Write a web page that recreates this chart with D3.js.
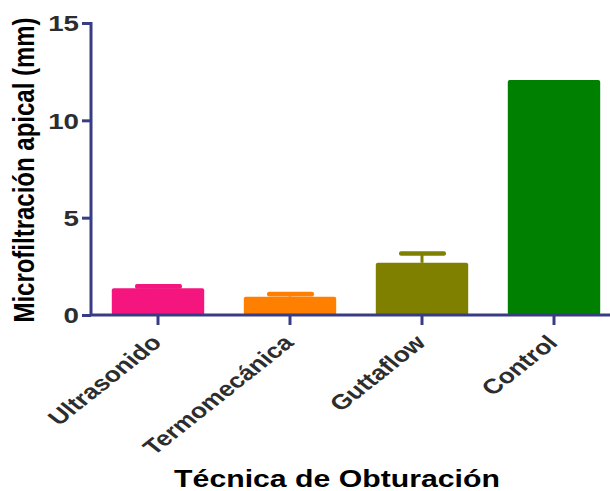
<!DOCTYPE html>
<html>
<head>
<meta charset="utf-8">
<script src="https://cdn.jsdelivr.net/npm/d3@7"></script>
<style>
  body { margin: 0; background: #fff; }
  text { font-family: "Liberation Sans", Arial, sans-serif; font-weight: bold; }
</style>
</head>
<body>
<svg id="chart"></svg>
<script>
// Data
const categories = ['Ultrasonido', 'Termomecánica', 'Guttaflow', 'Control'];
const means = [1.37, 0.94, 2.68, 12.07];
const errors = [0.1, 0.13, 0.48, 0];
const yTicks = [0, 5, 10, 15];
const barColors = ['#f5157f', '#ff8000', '#808000', '#008000'];

const W = 610, H = 491;
const axisColor = '#383c85';
const stretch = 1.26; // the figure's text is stretched sideways

const svg = d3.select('#chart')
    .attr('width', W)
    .attr('height', H);

const x = d3.scaleBand()
    .domain(categories)
    .range([92, 620])
    .paddingInner(0.3)
    .paddingOuter(0.15);

const y = d3.scaleLinear()
    .domain([0, 15])
    .range([315, 23]);

// Bars
svg.selectAll('.bar')
    .data(categories)
    .enter()
    .append('rect')
    .attr('class', 'bar')
    .attr('x', d => x(d))
    .attr('y', (d, i) => y(means[i]))
    .attr('width', x.bandwidth())
    .attr('height', (d, i) => y(0) - y(means[i]))
    .attr('rx', 2)
    .style('fill', (d, i) => barColors[i]);

// Error bars (upper only)
const errData = categories.map((c, i) => ({ c, m: means[i], e: errors[i], col: barColors[i] }))
    .filter(d => d.e > 0);

const err = svg.selectAll('.err')
    .data(errData)
    .enter()
    .append('g')
    .attr('class', 'err');

err.append('line')
    .attr('x1', d => x(d.c) + x.bandwidth() / 2)
    .attr('x2', d => x(d.c) + x.bandwidth() / 2)
    .attr('y1', d => y(d.m))
    .attr('y2', d => y(d.m + d.e))
    .style('stroke', d => d.col)
    .style('stroke-width', 3);

err.append('rect')
    .attr('x', d => x(d.c) + x.bandwidth() / 2 - 23)
    .attr('y', d => y(d.m + d.e) - 2.3)
    .attr('width', 47)
    .attr('height', 4.6)
    .attr('rx', 2)
    .style('fill', d => d.col);

// Y axis
const yAxis = svg.append('g')
    .attr('transform', 'translate(91,0)')
    .call(d3.axisLeft(y).tickValues(yTicks).tickSize(9));

yAxis.select('.domain')
    .attr('d', `M0,${y(15) - 1}V${y(0)}`)
    .style('stroke', axisColor)
    .style('stroke-width', 3);
yAxis.selectAll('.tick line')
    .style('stroke', axisColor)
    .style('stroke-width', 3);
yAxis.selectAll('.tick text')
    .attr('x', 0)
    .attr('dy', '0.36em')
    .attr('transform', `translate(-12,0) scale(${stretch},1)`)
    .style('font-size', '22px')
    .style('fill', '#2d2d2d');

// X axis
const xAxis = svg.append('g')
    .attr('transform', `translate(0,${y(0)})`)
    .call(d3.axisBottom(x).tickSize(10));

xAxis.select('.domain')
    .attr('d', `M90,0H${W}`)
    .style('stroke', axisColor)
    .style('stroke-width', 3);
xAxis.selectAll('.tick line')
    .style('stroke', axisColor)
    .style('stroke-width', 3);
xAxis.selectAll('.tick text')
    .attr('y', 0)
    .attr('dy', 0)
    .attr('transform', `translate(5,29) scale(${stretch},1) rotate(-45)`)
    .style('text-anchor', 'end')
    .style('font-size', '21px')
    .style('fill', '#2d2d2d');

// Axis titles
svg.append('text')
    .attr('transform', `translate(34,170) scale(${stretch},1) rotate(-90)`)
    .attr('text-anchor', 'middle')
    .style('font-size', '24px')
    .style('fill', '#000')
    .text('Microfiltración apical (mm)');

svg.append('text')
    .attr('transform', `translate(337,487) scale(${stretch},1)`)
    .attr('text-anchor', 'middle')
    .style('font-size', '24px')
    .style('fill', '#000')
    .text('Técnica de Obturación');
</script>
</body>
</html>
